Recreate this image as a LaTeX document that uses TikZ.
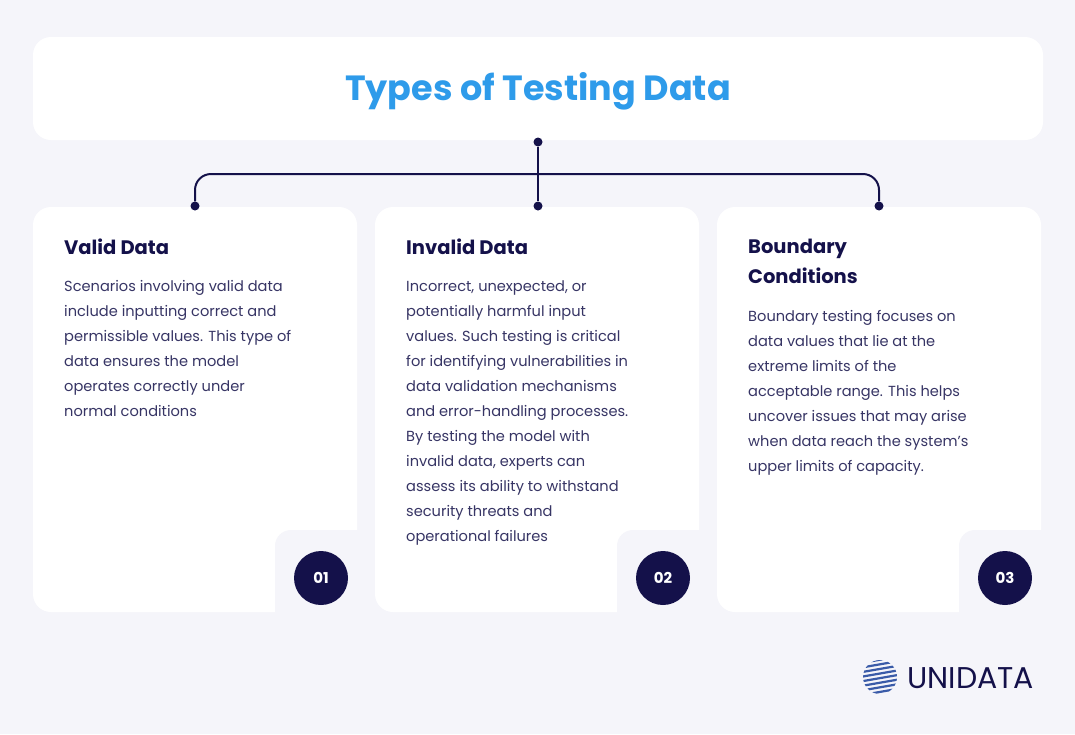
\documentclass[tikz,border=0pt]{standalone}
\usepackage{fontspec}
\setmainfont{Poppins}
\usetikzlibrary{positioning}
\definecolor{bg}{HTML}{F5F5FA}
\definecolor{navy}{HTML}{14114A}
\definecolor{ttl}{HTML}{2E9BEA}
\definecolor{globe}{HTML}{3A5BA8}
\tikzset{%
  card/.style={fill=white,rounded corners=18pt},
  notch/.style={fill=bg,rounded corners=16pt},
  badge/.style={circle,fill=navy,minimum size=54pt,inner sep=0pt,text=white,font=\fontsize{15}{15}\selectfont\bfseries},
  head/.style={anchor=north west,inner sep=0pt,text=navy,align=left,font=\fontsize{19.5}{30}\selectfont\bfseries},
  body/.style={anchor=north west,inner sep=0pt,text=navy!85,align=left,font=\fontsize{14.6}{25}\selectfont},
  dot/.style={circle,fill=navy,inner sep=0pt,minimum size=9pt}
}
\begin{document}
\begin{tikzpicture}[x=1pt,y=-1pt]
  \fill[bg] (0,0) rectangle (1075,734);
  \useasboundingbox (0,0) rectangle (1075,734);
  % title
  \fill[card] (33,37) rectangle (1043,140);
  \node[text=ttl,font=\fontsize{35}{35}\selectfont\bfseries] (title) at (538,91) {Types of Testing Data};
  % cards
  \foreach \i/\x in {1/33,2/375,3/717}{
    \fill[card] (\x,207) rectangle ++(324,405);
    \fill[notch] (\x+242,530) rectangle ++(100,100);
    \node[badge] (b\i) at (\x+288,578) {0\i};
  }
  % connector
  \node[dot] (top) at (538,142) {};
  \node[dot] (d1) at (195,206) {};
  \node[dot] (d2) at (538,206) {};
  \node[dot] (d3) at (879,206) {};
  \draw[navy,line width=2pt] (top) -- (d2);
  \draw[navy,line width=2pt,rounded corners=16pt] (d1) |- (538,174) -| (d3);
  % texts
  \node[head] (h1) at (64,239) {Valid Data};
  \node[body] (t1) at (64,280) {Scenarios involving valid data\\include inputting correct and\\permissible values. This type of\\data ensures the model\\operates correctly under\\normal conditions};
  \node[head] (h2) at (406,239) {Invalid Data};
  \node[body] (t2) at (406,280) {Incorrect, unexpected, or\\potentially harmful input\\values. Such testing is critical\\for identifying vulnerabilities in\\data validation mechanisms\\and error-handling processes.\\By testing the model with\\invalid data, experts can\\assess its ability to withstand\\security threats and\\operational failures};
  \node[head] (h3) at (748,239) {Boundary\\Conditions};
  \node[body] (t3) at (748,310) {Boundary testing focuses on\\data values that lie at the\\extreme limits of the\\acceptable range. This helps\\uncover issues that may arise\\when data reach the system's\\upper limits of capacity.};
  % logo
  \begin{scope}
    \clip (880,677) circle (17);
    \foreach \k in {-5,...,5}
      \draw[globe,line width=2.2pt] (860,677+\k*4.6) -- (900,670+\k*4.6);
  \end{scope}
  \node[anchor=west,text=navy,font=\fontsize{30}{30}\selectfont] (logo) at (904,678) {UNIDATA};
\end{tikzpicture}
\end{document}
